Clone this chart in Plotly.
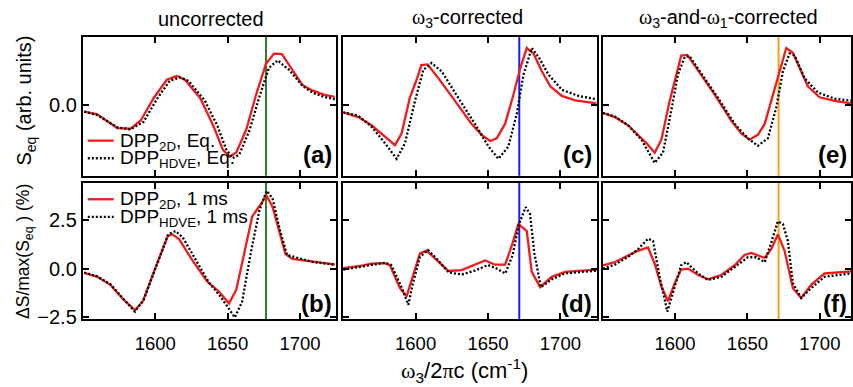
import plotly.graph_objects as go

# ---------------- data ----------------
# Panel (a): S_eq, uncorrected
a_red_x = [1551, 1560, 1573.8, 1583, 1590, 1599, 1608, 1615, 1620.5, 1631, 1640, 1646.8, 1651.4, 1656, 1662.8, 1669.7, 1676.5, 1682, 1687.5, 1694.7, 1701.6, 1708.4, 1716.4, 1724]
a_red_y = [-0.09, -0.13, -0.33, -0.34, -0.22, 0.11, 0.376, 0.43, 0.376, 0.11, -0.29, -0.65, -0.75, -0.686, -0.36, 0.16, 0.61, 0.757, 0.75, 0.52, 0.30, 0.22, 0.16, 0.124]
a_blk_x = [1551, 1560, 1573.8, 1583, 1592, 1601, 1610, 1617, 1623, 1634, 1643, 1649, 1653.5, 1658, 1665, 1672, 1678.5, 1684.5, 1692.5, 1701.6, 1708.4, 1716, 1724]
a_blk_y = [-0.09, -0.14, -0.32, -0.35, -0.24, 0.09, 0.36, 0.41, 0.36, 0.08, -0.3, -0.64, -0.77, -0.72, -0.37, 0.13, 0.55, 0.66, 0.52, 0.29, 0.19, 0.13, 0.09]

# Panel (b): dS/max(S_eq) (%), uncorrected, 1 ms
b_red_x = [1551, 1560, 1569, 1578, 1586, 1591.5, 1599.5, 1608.7, 1612, 1616.6, 1625.7, 1636, 1644, 1651, 1656, 1662, 1667, 1674, 1676.5, 1681, 1685.6, 1690, 1694.7, 1708, 1724]
b_red_y = [-0.22, -0.42, -0.83, -1.58, -2.13, -1.67, -0.08, 1.67, 1.75, 1.5, 0.42, -0.67, -1.17, -1.78, -1.08, 0.92, 2.67, 3.42, 3.78, 3.17, 2.0, 0.75, 0.5, 0.38, 0.22]
b_blk_x = [1551, 1560, 1569, 1578, 1586, 1592, 1600, 1609, 1614, 1619, 1628, 1637, 1645, 1651, 1655, 1660, 1666, 1672, 1677, 1681, 1686, 1691, 1700, 1708, 1724]
b_blk_y = [-0.2, -0.4, -0.8, -1.55, -2.2, -1.6, 0.0, 1.75, 1.92, 1.6, 0.45, -0.7, -1.42, -2.1, -2.5, -1.7, 0.8, 3.0, 3.98, 3.6, 2.0, 0.7, 0.5, 0.35, 0.2]

# Panel (c): S_eq, w3-corrected
c_red_x = [1550, 1560.4, 1569.6, 1576.5, 1585.8, 1590.3, 1596, 1600.7, 1604, 1608.3, 1615.7, 1627.2, 1638.7, 1645.6, 1651.4, 1656, 1661.8, 1667.6, 1672.2, 1676.8, 1681.4, 1687.2, 1693, 1701, 1710.2, 1725]
c_red_y = [-0.1, -0.17, -0.29, -0.41, -0.58, -0.41, 0.11, 0.376, 0.59, 0.6, 0.4, 0.067, -0.27, -0.43, -0.52, -0.48, -0.27, 0.16, 0.54, 0.84, 0.76, 0.5, 0.28, 0.14, 0.076, 0.03]
c_blk_x = [1550, 1560.4, 1569.6, 1578.8, 1586.9, 1592.7, 1599.6, 1605.3, 1611, 1618, 1629.5, 1641, 1650.3, 1657.2, 1664.1, 1669.9, 1674.5, 1680.2, 1684.9, 1691.8, 1701, 1712.5, 1725]
c_blk_y = [-0.1, -0.15, -0.31, -0.55, -0.78, -0.55, 0.067, 0.52, 0.62, 0.5, 0.11, -0.27, -0.6, -0.78, -0.6, -0.12, 0.45, 0.84, 0.71, 0.45, 0.23, 0.14, 0.09]

# Panel (d): dS/max(S_eq) (%), w3-corrected
d_red_x = [1550, 1560.4, 1569.6, 1578.8, 1582.3, 1589.2, 1593.8, 1597.3, 1603, 1607.6, 1613.4, 1622.6, 1631.8, 1641, 1648, 1654.9, 1661.8, 1666.4, 1671, 1676.8, 1680.2, 1686, 1694, 1703.3, 1725]
d_red_y = [0.03, 0.12, 0.25, 0.28, 0.17, -1.0, -1.42, -0.58, 0.78, 0.92, 0.5, -0.12, -0.08, 0.22, 0.42, 0.2, 0.2, 1.17, 2.28, 1.92, -0.17, -0.95, -0.42, -0.17, -0.05]
d_blk_x = [1550, 1560, 1569.6, 1578.8, 1583, 1590, 1595, 1598, 1603, 1608.5, 1614, 1623, 1632, 1641, 1650, 1656, 1662, 1667, 1671.5, 1676, 1679, 1682, 1686.5, 1694, 1703, 1725]
d_blk_y = [-0.05, 0.08, 0.2, 0.3, 0.2, -0.9, -1.85, -0.8, 0.6, 0.95, 0.55, -0.2, -0.3, -0.1, 0.18, 0.0, -0.25, 0.7, 2.3, 3.15, 2.8, 0.8, -0.95, -0.55, -0.25, -0.1]

# Panel (e): S_eq, w3-and-w1-corrected
e_red_x = [1550.3, 1558.4, 1567.6, 1575.6, 1580.2, 1586, 1590.6, 1596.3, 1600.9, 1604.3, 1608.5, 1615.9, 1627.4, 1638.8, 1645.7, 1651.5, 1657.2, 1661.9, 1666.4, 1672.2, 1676.8, 1681.4, 1686, 1691.7, 1699.8, 1710.1, 1725]
e_red_y = [-0.11, -0.17, -0.29, -0.46, -0.55, -0.69, -0.5, 0.067, 0.45, 0.73, 0.74, 0.52, 0.16, -0.22, -0.41, -0.5, -0.43, -0.27, 0.067, 0.52, 0.84, 0.77, 0.54, 0.28, 0.12, 0.067, 0.02]
e_blk_x = [1550.3, 1558.4, 1567.6, 1576.8, 1586, 1591.7, 1597.4, 1602, 1606.7, 1610.1, 1618.1, 1629.7, 1641.2, 1650.3, 1657.2, 1664.1, 1669.9, 1674.5, 1679.1, 1682.6, 1689.4, 1698.6, 1710.1, 1725]
e_blk_y = [-0.11, -0.16, -0.29, -0.5, -0.84, -0.69, -0.076, 0.45, 0.71, 0.72, 0.47, 0.11, -0.27, -0.48, -0.59, -0.48, -0.03, 0.5, 0.76, 0.73, 0.4, 0.19, 0.1, 0.06]

# Panel (f): dS/max(S_eq) (%), w3-and-w1-corrected
f_red_x = [1550.3, 1558.4, 1567.6, 1573.3, 1581.4, 1586, 1590.6, 1595.2, 1599.8, 1604.3, 1609, 1615.9, 1622.8, 1632, 1641.2, 1648, 1652.6, 1661.9, 1666.4, 1671, 1675.6, 1681.4, 1687.1, 1694, 1703.2, 1725]
f_red_y = [0.17, 0.33, 0.67, 0.88, 1.08, 0.25, -0.92, -1.67, -0.75, -0.05, 0.0, -0.33, -0.55, -0.33, 0.17, 0.7, 0.8, 0.55, 1.0, 1.75, 0.92, -1.0, -1.5, -0.83, -0.25, -0.12]
f_blk_x = [1550.3, 1558.4, 1567.6, 1574.5, 1581.4, 1584.8, 1589.4, 1594.7, 1599.8, 1604.3, 1607.8, 1615.9, 1622.8, 1632, 1641.2, 1650.3, 1656.1, 1661.9, 1666.4, 1671, 1674.5, 1677.9, 1681.4, 1687.1, 1694, 1703.2, 1725]
f_blk_y = [0.0, 0.2, 0.6, 1.0, 1.53, 1.42, -0.42, -2.2, -0.92, 0.17, 0.33, -0.25, -0.58, -0.42, 0.08, 0.58, 0.58, 0.33, 1.33, 2.42, 2.28, 1.42, -0.75, -1.5, -1.0, -0.42, -0.22]

# reference frequency markers (cm^-1) per column
marker_freqs = [1676.5, 1671.6, 1671.5]
marker_colors = ["#2e7d2e", "#1a1aff", "#f5a314"]

W_SYM = '<span style="font-family:Liberation Serif, DejaVu Serif, serif">ω</span>'
PI_SYM = '<span style="font-family:Liberation Serif, DejaVu Serif, serif">π</span>'
column_titles = ["uncorrected",
                 f"{W_SYM}<sub>3</sub>-corrected",
                 f"{W_SYM}<sub>3</sub>-and-{W_SYM}<sub>1</sub>-corrected"]
panel_letters = ["(a)", "(b)", "(c)", "(d)", "(e)", "(f)"]
x_ticks = [1600, 1650, 1700]
top_ticks = [0.0]
bottom_ticks = [-2.5, 0.0, 2.5]

legend_top = ["DPP<sub>2D</sub>, Eq.", "DPP<sub>HDVE</sub>, Eq."]
legend_bottom = ["DPP<sub>2D</sub>, 1 ms", "DPP<sub>HDVE</sub>, 1 ms"]

# ---------------- layout ----------------
W, H = 853, 387
FONT = "Liberation Sans, Arial, sans-serif"
RED = "#ee1c1c"
DOT = "2px,2px"

def px_x(p):
    return p / W

def px_y(p):
    return 1 - p / H

col_dom = [[px_x(83), px_x(337)], [px_x(344), px_x(598)], [px_x(604), 1.0]]
x_ranges = [[1550, 1725], [1550, 1725], [1550, 1721.5]]
top_dom = [px_y(180), px_y(38)]
bot_dom = [px_y(327), px_y(187)]
top_range = [-1.029, 1.0]
bot_range = [-2.6, 4.4]

panels = [
    (a_red_x, a_red_y, a_blk_x, a_blk_y),
    (b_red_x, b_red_y, b_blk_x, b_blk_y),
    (c_red_x, c_red_y, c_blk_x, c_blk_y),
    (d_red_x, d_red_y, d_blk_x, d_blk_y),
    (e_red_x, e_red_y, e_blk_x, e_blk_y),
    (f_red_x, f_red_y, f_blk_x, f_blk_y),
]

fig = go.Figure()
layout = dict(
    width=W, height=H,
    margin=dict(l=0, r=0, t=0, b=0),
    paper_bgcolor="white", plot_bgcolor="white",
    font=dict(family=FONT, color="black", size=16),
    showlegend=False,
)

annotations = []
shapes = []

for i, (rx, ry, bx, by) in enumerate(panels):
    col = i // 2
    row = i % 2  # 0 top, 1 bottom
    n = i + 1
    xa = "x" if n == 1 else f"x{n}"
    ya = "y" if n == 1 else f"y{n}"
    xkey = "xaxis" if n == 1 else f"xaxis{n}"
    ykey = "yaxis" if n == 1 else f"yaxis{n}"

    fig.add_trace(go.Scatter(x=rx, y=ry, xaxis=xa, yaxis=ya, mode="lines",
                             line=dict(color=RED, width=2.3), hoverinfo="skip"))
    fig.add_trace(go.Scatter(x=bx, y=by, xaxis=xa, yaxis=ya, mode="lines",
                             line=dict(color="black", width=2.3, dash=DOT), hoverinfo="skip"))

    layout[xkey] = dict(
        domain=col_dom[col], range=x_ranges[col], anchor=ya,
        showline=True, linecolor="black", linewidth=2, mirror="allticks",
        ticks="inside", ticklen=6, tickwidth=2, tickcolor="black",
        tickvals=x_ticks, showticklabels=(row == 1), ticklabelstandoff=6,
        tickfont=dict(size=18.5, family=FONT), showgrid=False, zeroline=False,
    )
    layout[ykey] = dict(
        domain=top_dom if row == 0 else bot_dom,
        range=top_range if row == 0 else bot_range, anchor=xa,
        showline=True, linecolor="black", linewidth=2, mirror="allticks",
        ticks="inside", ticklen=6, tickwidth=2, tickcolor="black",
        tickvals=top_ticks if row == 0 else bottom_ticks,
        tickformat=".1f", showticklabels=(col == 0),
        tickfont=dict(size=20, family=FONT), showgrid=False, zeroline=False,
    )

    shapes.append(dict(type="line", xref=xa, yref=f"{ya} domain",
                       x0=marker_freqs[col], x1=marker_freqs[col], y0=0, y1=1,
                       line=dict(color=marker_colors[col], width=2), layer="below"))

    annotations.append(dict(text=f"<b>{panel_letters[i]}</b>", xref=f"{xa} domain", yref=f"{ya} domain",
                            x=0.99, y=(22 / 142) if row == 0 else (16 / 140),
                            xanchor="right", yanchor="middle", showarrow=False,
                            font=dict(size=24, family=FONT)))

# manual legends (sample line + label), panels (a) and (b)
legend_rows = [(legend_top[0], RED, None, 144), (legend_top[1], "black", DOT, 162),
               (legend_bottom[0], RED, None, 204), (legend_bottom[1], "black", DOT, 222)]
for label, colr, dash, yc in legend_rows:
    shapes.append(dict(type="line", xref="paper", yref="paper",
                       x0=px_x(88), x1=px_x(114), y0=px_y(yc), y1=px_y(yc),
                       line=dict(color=colr, width=2.3, dash=dash)))
    annotations.append(dict(text=label, xref="paper", yref="paper", x=px_x(118), y=px_y(yc + 1),
                            xanchor="left", yanchor="middle", showarrow=False,
                            font=dict(size=19, family=FONT)))

title_cx = [211, 469, 730]
for t, cx in zip(column_titles, title_cx):
    annotations.append(dict(text=t, xref="paper", yref="paper", x=px_x(cx), y=px_y(19),
                            xanchor="center", yanchor="middle", showarrow=False,
                            font=dict(size=20, family=FONT)))

annotations.append(dict(text="S<sub>eq</sub> (arb. units)", xref="paper", yref="paper",
                        x=px_x(26), y=px_y(103), textangle=-90, xanchor="center", yanchor="middle",
                        showarrow=False, font=dict(size=20, family=FONT)))
annotations.append(dict(text="ΔS/max(S<sub>eq</sub> ) (%)", xref="paper", yref="paper",
                        x=px_x(24), y=px_y(257), textangle=-90, xanchor="center", yanchor="middle",
                        showarrow=False, font=dict(size=17.5, family=FONT)))
annotations.append(dict(text=f"{W_SYM}<sub>3</sub>/2{PI_SYM}c (cm<sup>-1</sup>)", xref="paper", yref="paper",
                        x=px_x(466), y=px_y(379), xanchor="center", yanchor="middle",
                        showarrow=False, font=dict(size=22, family=FONT)))

layout["annotations"] = annotations
layout["shapes"] = shapes
fig.update_layout(**layout)

fig.write_html("out.html")
